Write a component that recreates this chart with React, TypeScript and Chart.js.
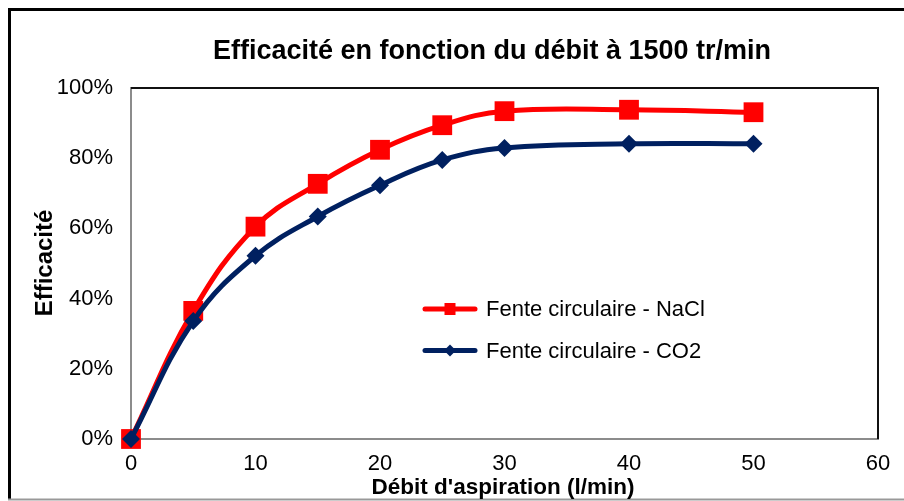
import React, { useEffect, useRef } from "react";
import { Chart, registerables } from "chart.js";

Chart.register(...registerables);

const debit = [0, 5, 10, 15, 20, 25, 30, 40, 50];
const nacl = [0, 36.5, 60.5, 72.7, 82.4, 89.4, 93.4, 93.8, 93.1];
const co2 = [0, 33.6, 52.2, 63.4, 72.3, 79.5, 82.9, 84.1, 84.1];
const seriesNames = ["Fente circulaire - NaCl", "Fente circulaire - CO2"];
const chartTitle = "Efficacité en fonction du débit à 1500 tr/min";
const xTitle = "Débit d'aspiration (l/min)";
const yTitle = "Efficacité";

const RED = "#FF0000";
const NAVY = "#002060";
const FONT = "'Liberation Sans', Arial, sans-serif";

const decor = {
  id: "decor",
  beforeDraw(chart: any) {
    const ctx = chart.ctx;
    ctx.save();
    ctx.fillStyle = "#fff";
    ctx.fillRect(0, 0, chart.width, chart.height);
    // outer frame
    ctx.strokeStyle = "#000";
    ctx.lineWidth = 3;
    ctx.beginPath();
    ctx.moveTo(904, 9.5);
    ctx.lineTo(9.5, 9.5);
    ctx.lineTo(9.5, 499);
    ctx.stroke();
    ctx.strokeStyle = "#999";
    ctx.lineWidth = 2;
    ctx.beginPath();
    ctx.moveTo(8, 499.5);
    ctx.lineTo(904, 499.5);
    ctx.stroke();
    ctx.restore();
  },
  beforeDatasetsDraw(chart: any) {
    const { ctx, chartArea: a } = chart;
    ctx.save();
    ctx.strokeStyle = "#111";
    ctx.lineWidth = 2;
    ctx.beginPath();
    ctx.moveTo(a.left, a.top);
    ctx.lineTo(a.right, a.top);
    ctx.lineTo(a.right, a.bottom);
    ctx.stroke();
    ctx.restore();
  },
  afterDraw(chart: any) {
    const ctx = chart.ctx;
    ctx.save();
    ctx.fillStyle = "#000";
    ctx.textAlign = "center";
    ctx.textBaseline = "middle";
    ctx.font = `bold 27px ${FONT}`;
    ctx.fillText(chartTitle, 492, 52);
    ctx.font = `bold 22.5px ${FONT}`;
    ctx.fillText(xTitle, 503, 488);
    ctx.save();
    ctx.translate(45, 263);
    ctx.rotate(-Math.PI / 2);
    ctx.font = `bold 24px ${FONT}`;
    ctx.fillText(yTitle, 0, 0);
    ctx.restore();

    // legend
    const items = [
      { ds: chart.data.datasets[0], y: 309 },
      { ds: chart.data.datasets[1], y: 350.5 },
    ];
    items.forEach(({ ds, y }) => {
      ctx.strokeStyle = ds.borderColor;
      ctx.lineWidth = 5;
      ctx.lineCap = "round";
      ctx.beginPath();
      ctx.moveTo(425, y);
      ctx.lineTo(475, y);
      ctx.stroke();
      ctx.fillStyle = ds.borderColor;
      if (ds.pointStyle === "rect") {
        ctx.fillRect(444.5, y - 6, 11, 12);
      } else {
        ctx.beginPath();
        ctx.moveTo(450, y - 6);
        ctx.lineTo(456, y);
        ctx.lineTo(450, y + 6);
        ctx.lineTo(444, y);
        ctx.closePath();
        ctx.fill();
      }
      ctx.fillStyle = "#000";
      ctx.textAlign = "left";
      ctx.font = `22px ${FONT}`;
      ctx.fillText(ds.label, 486, y + 1);
    });
    ctx.restore();
  },
};

export default function App() {
  const ref = useRef<HTMLCanvasElement>(null);
  useEffect(() => {
    const chart = new Chart(ref.current!, {
      type: "line",
      data: {
        datasets: [
          {
            label: seriesNames[0],
            data: debit.map((x, i) => ({ x, y: nacl[i] })),
            borderColor: RED,
            backgroundColor: RED,
            borderWidth: 5,
            pointStyle: "rect",
            pointRadius: 14,
            pointBorderWidth: 0,
            tension: 0.4,
            clip: false,
            order: 1,
          },
          {
            label: seriesNames[1],
            data: debit.map((x, i) => ({ x, y: co2[i] })),
            borderColor: NAVY,
            backgroundColor: NAVY,
            borderWidth: 5,
            pointStyle: "rectRot",
            pointRadius: 9,
            pointBorderWidth: 0,
            tension: 0.4,
            clip: false,
            order: 0,
          },
        ] as any,
      },
      options: {
        animation: false,
        responsive: false,
        devicePixelRatio: 1,
        layout: { padding: { top: 88, right: 26, left: 0, bottom: 0 } },
        plugins: { legend: { display: false }, tooltip: { enabled: false }, title: { display: false } },
        scales: {
          x: {
            type: "linear",
            min: 0,
            max: 60,
            grid: { display: false, drawTicks: false },
            border: { display: true, color: "#8c8c8c", width: 2 },
            ticks: { stepSize: 10, padding: 12, color: "#000", font: { family: FONT, size: 22 } },
            afterFit(s: any) {
              s.height = 62;
            },
          },
          y: {
            min: 0,
            max: 100,
            grid: { display: false, drawTicks: false },
            border: { display: true, color: "#8c8c8c", width: 2 },
            ticks: {
              stepSize: 20,
              padding: 18,
              color: "#000",
              font: { family: FONT, size: 22 },
              callback: (v: any) => v + "%",
            },
            afterFit(s: any) {
              s.width = 131;
            },
          },
        },
      } as any,
      plugins: [decor],
    });
    return () => chart.destroy();
  }, []);
  return (
    <div style={{ position: "fixed", left: 0, top: 0, width: 904, height: 501 }}>
      <canvas ref={ref} width={904} height={501} />
    </div>
  );
}
